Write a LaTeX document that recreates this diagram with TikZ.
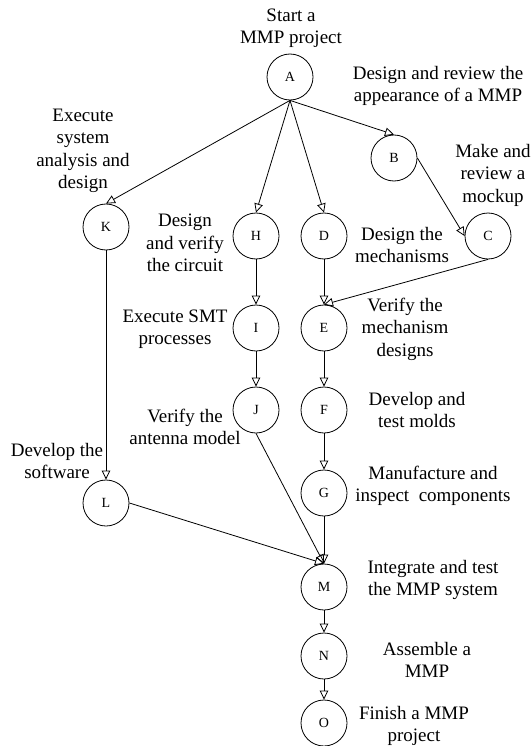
\documentclass[tikz,border=0pt]{standalone}
\usepackage{fontspec}
\setmainfont{Liberation Serif}
\usetikzlibrary{arrows.meta}
\tikzset{
        every path/.style={line width=0.8pt},
        >={Triangle[open,length=9pt,width=8.5pt]},
        task/.style={circle,draw,minimum size=46pt,inner sep=0pt,font=\fontsize{14}{16}\selectfont},
        note/.style={align=center,inner sep=0pt,font=\fontsize{19}{22.5}\selectfont},
        }

\begin{document}
\begin{tikzpicture}[x=1pt,y=-1pt]
			\useasboundingbox (0,0) rectangle (532,746);

			% activities
			\node [task] (A) at (290,77) {A};
			\node [task] (B) at (394,158) {B};
			\node [task] (C) at (488,236) {C};
			\node [task] (K) at (106,227) {K};
			\node [task] (H) at (256,236) {H};
			\node [task] (D) at (324,236) {D};
			\node [task] (I) at (256,328) {I};
			\node [task] (E) at (324,328) {E};
			\node [task] (J) at (256,410) {J};
			\node [task] (F) at (324,410) {F};
			\node [task] (G) at (324,493) {G};
			\node [task] (L) at (106,503) {L};
			\node [task] (M) at (324,587) {M};
			\node [task] (N) at (324,656) {N};
			\node [task] (O) at (324,723) {O};

			% descriptions
			\node [note] (tA) at (291,28) {Start a\\MMP project};
			\node [note] (tB) at (438,86) {Design and review the\\appearance of a MMP};
			\node [note] (tK) at (83,151) {Execute\\system\\analysis and\\design};
			\node [note] (tC) at (493,175) {Make and\\review a\\mockup};
			\node [note] (tH) at (185,243) {Design\\and verify\\the circuit};
			\node [note] (tD) at (402,245) {Design the\\mechanisms};
			\node [note] (tI) at (175,329) {Execute SMT\\processes};
			\node [note] (tE) at (405,329) {Verify the\\mechanism\\designs};
			\node [note] (tF) at (417,410) {Develop and\\test molds};
			\node [note] (tJ) at (185,427) {Verify the\\antenna model};
			\node [note] (tL) at (57,461) {Develop the\\software};
			\node [note] (tG) at (433,486) {Manufacture and\\inspect~ components};
			\node [note] (tM) at (433,580) {Integrate and test\\the MMP system};
			\node [note] (tN) at (427,660) {Assemble a\\MMP};
			\node [note] (tO) at (414,726) {Finish a MMP\\project};

			% precedence arrows
			\draw [->] (A.south) to (K.north);
			\draw [->] (A.south) to (H.north);
			\draw [->] (A.south) to (D.north);
			\draw [->] (A.south) to (B.north);
			\draw [->] (B.east) to (C.west);
			\draw [->] (C.south) to (E.north);
			\draw [->] (D) to (E);
			\draw [->] (H) to (I);
			\draw [->] (I) to (J);
			\draw [->] (E) to (F);
			\draw [->] (F) to (G);
			\draw [->] (K) to (L);
			\draw [->] (J.south) to (M.north);
			\draw [->] (L.east) to (M.north);
			\draw [->] (G) to (M);
			\draw [->] (M) to (N);
			\draw [->] (N) to (O);
		\end{tikzpicture}
\end{document}
